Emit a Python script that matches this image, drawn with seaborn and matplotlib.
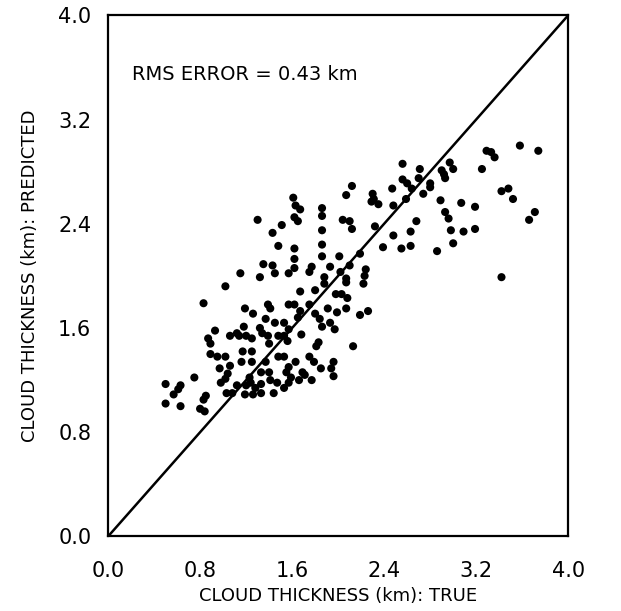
"""Scatter of predicted vs true cloud thickness with 1:1 line."""

import matplotlib

matplotlib.use("Agg")

import matplotlib.pyplot as plt
import pandas as pd
import seaborn as sns

# values (km)
true_km = [
    1.02, 0.83, 1.19, 1.39, 1.41, 1.26, 1.37, 1.45, 1.18, 1.32, 1.34, 0.93, 0.87, 0.89,
    1.06, 1.12, 1.14, 1.20, 1.25, 1.39, 1.40, 1.48, 0.89, 0.95, 1.02, 1.17, 1.25, 1.16,
    1.25, 0.97, 1.06, 1.37, 1.48, 1.40, 0.75, 1.04, 1.02, 0.98, 1.33, 0.50, 0.63, 0.61,
    0.57, 1.23, 1.24, 1.12, 1.20, 1.28, 1.33, 1.41, 1.47, 1.03, 1.08, 1.19, 1.26, 1.33,
    0.85, 0.83, 1.44, 0.50, 0.63, 0.80, 0.84,
    1.67, 1.80, 1.88, 2.07, 2.22, 1.57, 1.62, 1.75, 1.98, 2.03, 2.08, 1.91, 1.99, 2.07,
    1.67, 1.65, 1.80, 1.84, 2.19, 2.26, 1.53, 1.57, 1.53, 1.86, 1.93, 1.97, 1.68, 1.56,
    1.83, 1.81, 2.13, 1.53, 1.75, 1.79, 1.96, 1.94, 1.85, 1.63, 1.57, 1.55, 1.59, 1.69,
    1.71, 1.77, 1.66, 1.96, 1.57, 1.53,
    1.30, 1.43, 1.51, 1.48, 1.35, 1.43, 1.45, 1.15, 1.32,
    2.56, 2.56, 2.60, 2.64, 2.12, 2.47, 1.61, 2.07, 2.30, 2.31, 2.35, 2.29, 1.63, 1.67,
    1.86, 2.59, 2.48, 1.86, 1.62, 1.65, 2.04, 2.10, 2.12, 2.32, 1.86, 2.63, 2.48, 1.86,
    1.62, 2.39, 2.55, 2.63, 1.86, 1.62, 1.62, 2.01, 2.19, 1.77, 1.75, 1.93, 2.10, 2.24,
    2.23, 1.57, 1.88, 2.02, 2.07,
    3.29, 3.33, 3.36, 3.58, 3.74, 3.25, 2.71, 2.70, 2.90, 2.92, 2.93, 2.97, 3.00, 2.80,
    2.80, 2.74, 3.42, 3.48, 3.52, 2.89, 3.07, 3.19, 2.93, 2.96, 3.71, 3.66, 2.68, 2.98,
    3.09, 3.19, 3.00, 2.86, 3.42,
]
predicted_km = [
    1.92, 1.79, 1.75, 1.78, 1.75, 1.71, 1.67, 1.64, 1.61, 1.60, 1.56, 1.58, 1.52, 1.48,
    1.54, 1.56, 1.54, 1.54, 1.52, 1.54, 1.48, 1.54, 1.40, 1.38, 1.38, 1.42, 1.42, 1.34,
    1.34, 1.29, 1.31, 1.34, 1.38, 1.26, 1.22, 1.25, 1.21, 1.18, 1.26, 1.17, 1.16, 1.13,
    1.09, 1.22, 1.18, 1.16, 1.16, 1.14, 1.17, 1.20, 1.18, 1.10, 1.10, 1.09, 1.09, 1.10,
    1.08, 1.05, 1.10, 1.02, 1.00, 0.98, 0.96,
    1.88, 1.89, 1.94, 1.95, 1.94, 1.78, 1.78, 1.78, 1.86, 1.86, 1.83, 1.75, 1.72, 1.75,
    1.73, 1.68, 1.71, 1.67, 1.70, 1.73, 1.64, 1.59, 1.54, 1.61, 1.64, 1.59, 1.55, 1.50,
    1.49, 1.46, 1.46, 1.38, 1.38, 1.34, 1.34, 1.29, 1.29, 1.34, 1.30, 1.26, 1.22, 1.26,
    1.24, 1.20, 1.20, 1.23, 1.18, 1.14,
    2.43, 2.33, 2.39, 2.23, 2.09, 2.08, 2.02, 2.02, 1.99,
    2.86, 2.74, 2.71, 2.67, 2.69, 2.67, 2.60, 2.62, 2.63, 2.59, 2.55, 2.57, 2.54, 2.51,
    2.52, 2.59, 2.54, 2.46, 2.45, 2.42, 2.43, 2.42, 2.36, 2.38, 2.35, 2.34, 2.31, 2.24,
    2.21, 2.22, 2.21, 2.23, 2.15, 2.13, 2.06, 2.15, 2.17, 2.07, 2.03, 2.07, 2.08, 2.05,
    2.00, 2.02, 1.99, 2.03, 1.98,
    2.96, 2.95, 2.91, 3.00, 2.96, 2.82, 2.82, 2.75, 2.81, 2.78, 2.75, 2.87, 2.82, 2.71,
    2.68, 2.63, 2.65, 2.67, 2.59, 2.58, 2.56, 2.53, 2.49, 2.44, 2.49, 2.43, 2.42, 2.35,
    2.34, 2.36, 2.25, 2.19, 1.99,
]
axis_ticks = [0.0, 0.8, 1.6, 2.4, 3.2, 4.0]
axis_limits = [0.0, 4.0]
rms_error_km = 0.43

df = pd.DataFrame({"true": true_km, "predicted": predicted_km})

sns.set_theme(style="white")
plt.rcParams["font.family"] = ["Liberation Sans Narrow", "DejaVu Sans"]

fig = plt.figure(figsize=(6.21, 6.11), dpi=100)
ax = fig.add_axes([0.174, 0.122, 0.741, 0.853])

sns.scatterplot(data=df, x="true", y="predicted", ax=ax, color="black",
                s=34, edgecolor="none", linewidth=0, zorder=3)
ax.plot(axis_limits, axis_limits, color="black", lw=1.8, zorder=2)

ax.set_xlim(axis_limits)
ax.set_ylim(axis_limits)
ax.set_xticks(axis_ticks)
ax.set_yticks(axis_ticks)
ax.set_xticklabels([f"{t:.1f}" for t in axis_ticks])
ax.set_yticklabels([f"{t:.1f}" for t in axis_ticks])
ax.tick_params(direction="in", length=10, width=1.5, colors="black",
               labelsize=15, top=False, right=False)
ax.tick_params(axis="x", pad=18)
ax.tick_params(axis="y", pad=12)

for spine in ax.spines.values():
    spine.set_color("black")
    spine.set_linewidth(1.6)

ax.set_xlabel("CLOUD THICKNESS (km): TRUE", fontsize=13, labelpad=4, color="black")
ax.set_ylabel("CLOUD THICKNESS (km): PREDICTED", fontsize=13, labelpad=14, color="black")
ax.text(0.21, 3.5, f"RMS ERROR = {rms_error_km:.2f} km", fontsize=14, color="black")

fig.savefig("out.png", dpi=100)
